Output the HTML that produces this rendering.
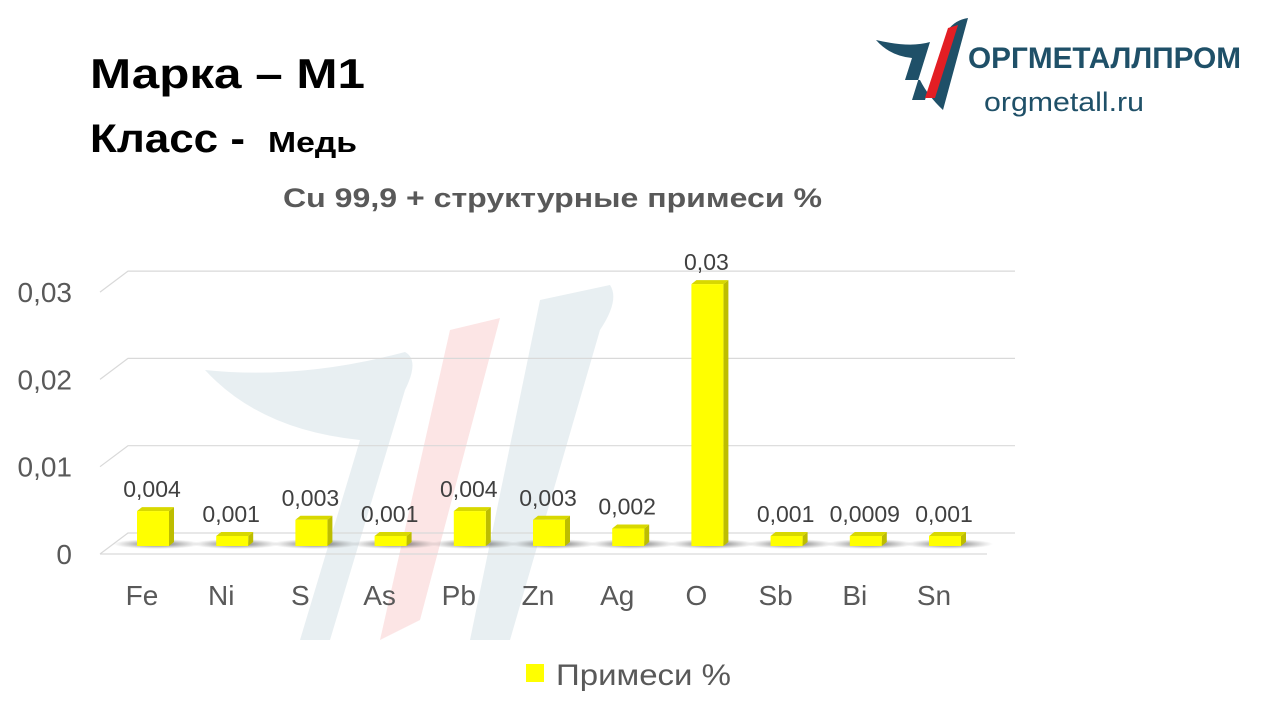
<!DOCTYPE html>
<html><head><meta charset="utf-8">
<style>
body{margin:0;background:#fff;width:1280px;height:720px;overflow:hidden;font-family:"Liberation Sans","DejaVu Sans",sans-serif;}
svg{display:block}
</style></head>
<body>
<svg width="1280" height="720" viewBox="0 0 1280 720">
<defs>
 <radialGradient id="sh" cx="0.5" cy="0.5" r="0.5"><stop offset="0" stop-color="#333" stop-opacity="0.8"/><stop offset="1" stop-color="#777" stop-opacity="0"/></radialGradient>
</defs>
<g opacity="0.55">
 <path d="M205,370 Q300,380 405,352 Q420,360 405,390 L330,640 L300,640 L360,440 Q260,430 205,370Z" fill="#d6e2e8"/>
 <path d="M450,330 L500,318 L420,620 L380,640Z" fill="#fbd0d0"/>
 <path d="M540,300 L610,285 Q620,300 600,330 L510,640 L470,640Z" fill="#d6e2e8"/>
</g>
<text x="90" y="88" font-size="42" font-weight="bold" fill="#000" textLength="275" lengthAdjust="spacingAndGlyphs">Марка – М1</text>
<text x="90" y="152" font-size="40" font-weight="bold" fill="#000" textLength="155" lengthAdjust="spacingAndGlyphs">Класс -</text>
<text x="268" y="152" font-size="29" font-weight="bold" fill="#000" textLength="89" lengthAdjust="spacingAndGlyphs">Медь</text>
<g>
 <path d="M876,40 Q910,48 930,42 L912,100 L925,100 L948,30 Q955,20 968,18 L943,110 Q928,96 920,80 L905,80 L912,58 Q890,56 876,40Z" fill="#1f5068"/>
 <path d="M925,98 L948,28 L958,25 L935,98Z" fill="#e31e24"/>
 <text x="968" y="68" font-size="30" font-weight="bold" fill="#1f5068" textLength="273" lengthAdjust="spacingAndGlyphs">ОРГМЕТАЛЛПРОМ</text>
 <text x="984" y="111" font-size="27" fill="#1f5068" textLength="160" lengthAdjust="spacingAndGlyphs">orgmetall.ru</text>
</g>
<text x="283" y="207" font-size="27" font-weight="bold" fill="#595959" textLength="539" lengthAdjust="spacingAndGlyphs">Cu 99,9 + структурные примеси %</text>
<g id="grid"></g>
<g id="yax"></g>
<g id="bars"></g>
<g id="xax"></g>
<g>
 <rect x="526" y="664" width="18" height="18" fill="#ffff00"/>
 <text x="556" y="685" font-size="30" fill="#595959" textLength="175" lengthAdjust="spacingAndGlyphs">Примеси %</text>
</g>
</svg>
<script>
const categories=["Fe","Ni","S","As","Pb","Zn","Ag","O","Sb","Bi","Sn"];
const values=[0.004,0.001,0.003,0.001,0.004,0.003,0.002,0.03,0.001,0.0009,0.001];
const labels=["0,004","0,001","0,003","0,001","0,004","0,003","0,002","0,03","0,001","0,0009","0,001"];
const yTicks=[0,0.01,0.02,0.03];
const yTickLabels=["0","0,01","0,02","0,03"];
const NS="http://www.w3.org/2000/svg";
function mk(t,a,p){const e=document.createElementNS(NS,t);for(const k in a)e.setAttribute(k,a[k]);p.appendChild(e);return e;}
const scale=8730;
function yFront(v){return 554-v*scale;}
function yBar(v){return 546-v*scale;}
function xC(i){return 153+i*79.2;}
const grid=document.getElementById('grid'),yax=document.getElementById('yax'),bars=document.getElementById('bars'),xax=document.getElementById('xax');
yTicks.forEach((t,i)=>{
 const yf=yFront(t),yb=yf-21;
 const g=mk('path',{d:`M100,${yf} L128,${yb} L1015,${yb}`,stroke:'#d9d9d9','stroke-width':1.2,fill:'none'},grid);
 
 
 const tx=mk('text',{x:72,y:yf+10,'text-anchor':'end','font-size':28,fill:'#595959'},yax);
 tx.textContent=yTickLabels[i];
 
 
});
const fl=mk('path',{d:'M100,554 L987,554',stroke:'#d9d9d9','stroke-width':1.2},grid);


categories.forEach((c,i)=>{
 const x=xC(i)-16,w=32,top=Math.min(yBar(values[i]),536),d=5;
 const sh=mk('ellipse',{cx:xC(i)+4,cy:544,rx:44,ry:5,fill:'url(#sh)'},bars);
 
 
 const side=mk('path',{d:`M${x+w},${top} L${x+w+d},${top-4} L${x+w+d},${542} L${x+w},546Z`,fill:'#bdbd00'},bars);
 
 
 const tp=mk('path',{d:`M${x},${top} L${x+d},${top-4} L${x+w+d},${top-4} L${x+w},${top}Z`,fill:'#d8d800'},bars);
 
 
 const r=mk('rect',{x:x,y:top,width:w,height:546-top,fill:'#ffff00'},bars);
 
 
 const vl=mk('text',{x:xC(i)-1,y:top-14,'text-anchor':'middle','font-size':23,fill:'#404040'},bars);
 vl.textContent=labels[i];
 
 
 const cl=mk('text',{x:xC(i)-11,y:605,'text-anchor':'middle','font-size':28,fill:'#595959'},xax);
 cl.textContent=c;
 
 
});
</script>
</body></html>
